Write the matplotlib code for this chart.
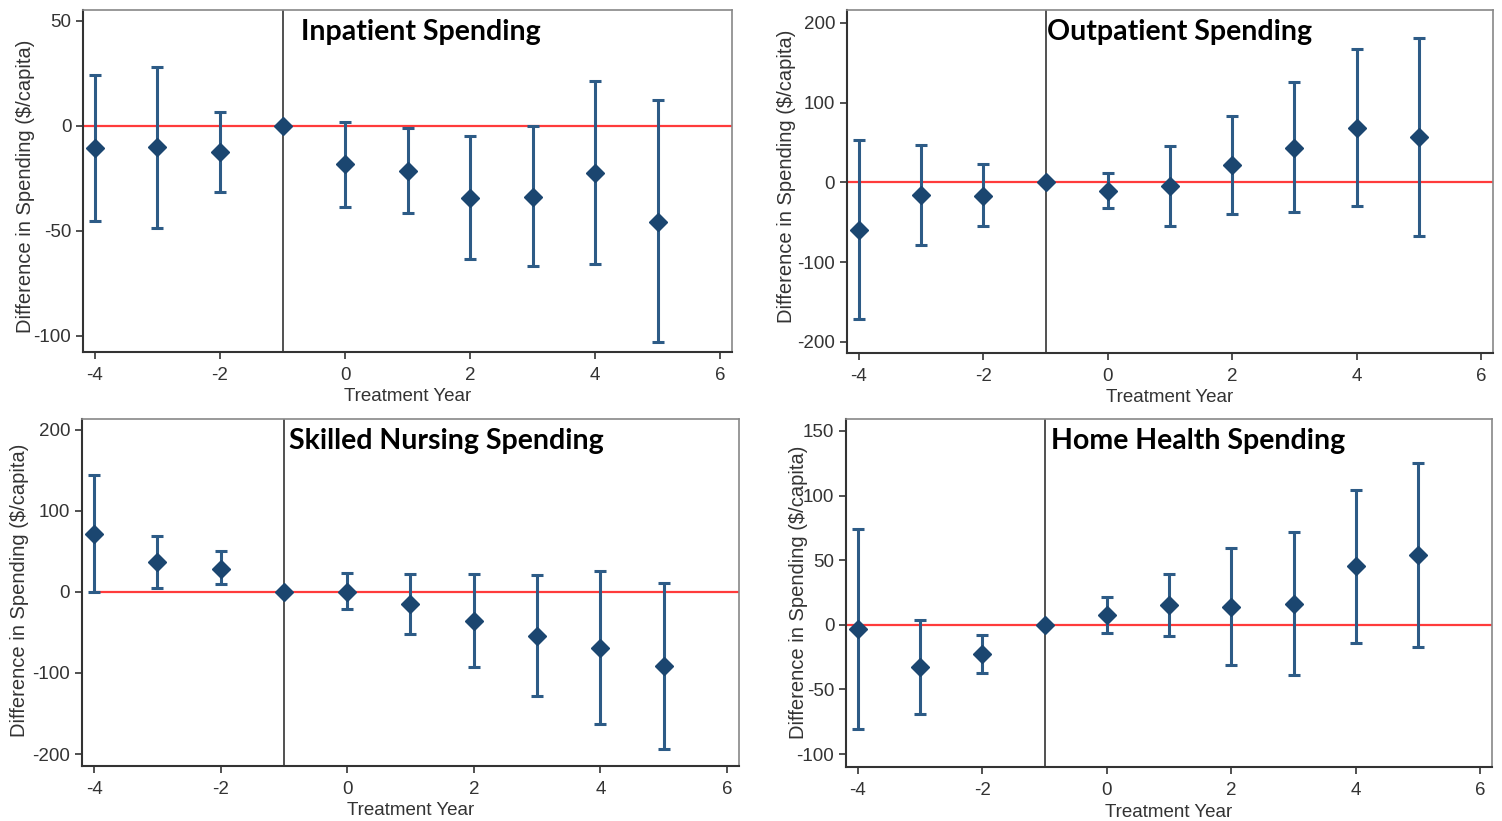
import matplotlib.pyplot as plt
from matplotlib.transforms import blended_transform_factory

plt.rcParams['axes.unicode_minus'] = False
plt.rcParams['font.family'] = ['Liberation Sans', 'DejaVu Sans']

# annees de traitement
annees = [-4, -3, -2, -1, 0, 1, 2, 3, 4, 5]

# Inpatient
inpat_est = [-10.6, -10.3, -12.5, 0, -18.4, -21.4, -34.3, -33.7, -22.7, -45.7]
inpat_haut = [24.1, 27.9, 6.7, 0, 1.7, -1.1, -4.9, -0.2, 21.1, 12.1]
inpat_bas = [-45.4, -48.6, -31.4, 0, -38.7, -41.6, -63.3, -66.7, -66.0, -102.9]

# Outpatient
outpat_est = [-59.5, -16.4, -16.8, 0, -10.5, -5.0, 21.4, 43.6, 68.3, 57.0]
outpat_haut = [53.2, 47.0, 22.6, 0, 11.3, 46.1, 82.6, 126.2, 167.7, 180.7]
outpat_bas = [-171.9, -79.2, -54.9, 0, -32.3, -54.9, -39.4, -37.7, -30.2, -66.7]

# Skilled nursing
snf_est = [71.8, 37.3, 28.7, 0, 0.4, -15.2, -36.1, -54.2, -69.7, -91.9]
snf_haut = [144.0, 69.7, 50.0, 0, 23.0, 21.7, 21.7, 20.9, 25.8, 11.5]
snf_bas = [0.0, 4.9, 9.4, 0, -21.3, -51.7, -92.3, -128.0, -163.3, -193.6]

# Home health
hh_est = [-3.6, -33.0, -22.4, 0, 7.7, 15.2, 13.7, 16.3, 45.4, 54.2]
hh_haut = [73.8, 3.9, -7.5, 0, 21.9, 39.7, 59.1, 71.5, 104.5, 125.4]
hh_bas = [-80.5, -68.9, -37.2, 0, -6.2, -8.8, -31.2, -39.0, -13.7, -16.8]

titres = ["Inpatient Spending", "Outpatient Spending",
          "Skilled Nursing Spending", "Home Health Spending"]
yticks = [[-100, -50, 0, 50], [-200, -100, 0, 100, 200],
          [-200, -100, 0, 100, 200], [-100, -50, 0, 50, 100, 150]]
ylims = [(-107.6, 55), (-214, 216), (-214.8, 213.6), (-110, 159.3)]

series = [(inpat_est, inpat_haut, inpat_bas),
          (outpat_est, outpat_haut, outpat_bas),
          (snf_est, snf_haut, snf_bas),
          (hh_est, hh_haut, hh_bas)]

positions = [[0.0553, 0.5713, 0.4321, 0.4165],
             [0.5639, 0.5700, 0.4301, 0.4178],
             [0.0546, 0.0670, 0.4374, 0.4227],
             [0.5633, 0.0658, 0.4301, 0.4239]]
titre_dx = [0.29, 0.03, 0.08, 0.11]
label_x = [-0.074, -0.079, -0.081, -0.059]
label_y = [0.485, 0.516, 0.507, 0.503]
rouge_debut = [0, 0, 0.018, 0]

fig = plt.figure(figsize=(15.02, 8.21), dpi=100)

for i in range(4):
    ax = fig.add_axes(positions[i])
    est, haut, bas = series[i]
    err_bas = [e - b for e, b in zip(est, bas)]
    err_haut = [h - e for e, h in zip(est, haut)]

    ax.axhline(0, xmin=rouge_debut[i], color='#ff3b3b', lw=1.6, zorder=1)
    ax.axvline(-1, color='#333333', lw=1.2, zorder=1)

    # pas d'intervalle pour l'annee de reference
    idx = [k for k, x in enumerate(annees) if x != -1]
    ax.errorbar([annees[k] for k in idx], [est[k] for k in idx],
                yerr=[[err_bas[k] for k in idx], [err_haut[k] for k in idx]],
                fmt='none', ecolor='#2d5b86', elinewidth=2.2, capsize=4,
                capthick=2.2, zorder=2)
    ax.plot(annees, est, 'D', color='#1b4670', markersize=9.5, zorder=3)

    ax.set_xlim(-4.19, 6.19)
    ax.set_ylim(*ylims[i])
    ax.set_xticks([-4, -2, 0, 2, 4, 6])
    ax.set_yticks(yticks[i])
    ax.tick_params(direction='out', length=5, width=1.2, labelsize=13.5,
                   colors='#333333')
    ax.tick_params(axis='x', pad=6)

    for s in ['left', 'bottom']:
        ax.spines[s].set_color('#333333')
        ax.spines[s].set_linewidth(1.5)
    for s in ['top', 'right']:
        ax.spines[s].set_color('#888888')
        ax.spines[s].set_linewidth(1.2)

    ax.set_xlabel("Treatment Year", fontsize=13.5, color='#333333')
    ax.xaxis.set_label_coords(0.5, -0.105)
    ax.set_ylabel("Difference in Spending ($/capita)", fontsize=14.5,
                  color='#333333')
    ax.yaxis.set_label_coords(label_x[i], label_y[i])

    trans = blended_transform_factory(ax.transData, ax.transAxes)
    ax.text(-1 + titre_dx[i], 0.975, titres[i], transform=trans,
            fontsize=20.5, fontweight='bold', va='top', ha='left',
            family=['Lato', 'DejaVu Sans'], color='black')

fig.savefig("out.png", dpi=100)
